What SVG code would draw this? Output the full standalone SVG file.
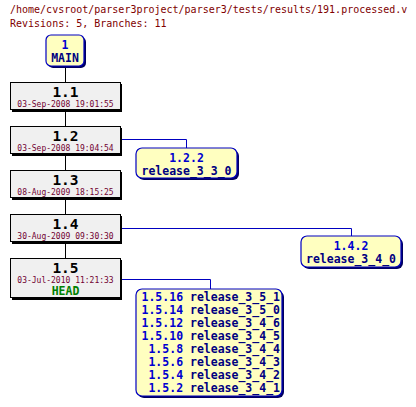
<svg xmlns="http://www.w3.org/2000/svg" width="416" height="407" viewBox="0 0 416 407">
<style>
text{font-family:"DejaVu Sans Mono","Liberation Mono",monospace}
.hdr{font-size:10px;fill:#800000}
.rev{fill:#f0f0f0;stroke:#000;stroke-width:1}
.sh{fill:#000}
.br{fill:#ffffc0;stroke:#0000c0;stroke-width:1.2}
.bsh{fill:#000060}
.num{font-size:14.5px;font-weight:bold;fill:#000;text-anchor:middle}
.date{font-size:8px;fill:#700030;text-anchor:middle}
.bv{font-size:11.5px;font-weight:bold;fill:#0000d0;text-anchor:middle}
.bt{font-size:11.5px;font-weight:bold;fill:#000080;text-anchor:middle}
.head{font-size:11.5px;font-weight:bold;fill:#008000;text-anchor:middle}
.lst{font-size:11.5px;font-weight:bold;text-anchor:end}
.t{stroke:#000;stroke-width:1;fill:none}
.b{stroke:#0000c0;stroke-width:1;fill:none}
</style>
<text class="hdr" x="10" y="13">/home/cvsroot/parser3project/parser3/tests/results/191.processed.v</text>
<text class="hdr" x="10" y="27">Revisions: 5, Branches: 11</text>
<g id="connectors">
<path class="t" d="M65.5 66V82M65.5 110V126M65.5 154V170M65.5 198V214M65.5 242V258"/>
<path class="b" d="M120 139.5H186.5V148M120 228.5H351.5V236M120 279.5H210.5V289"/>
</g>
<g id="n-main">
<rect class="bsh" x="48" y="37" width="38" height="31" rx="5"/>
<rect class="br" x="46" y="35" width="38" height="31" rx="5"/>
<text class="bv" x="65" y="49">1</text>
<text class="bt" x="65" y="62">MAIN</text>
</g>
<g id="n-1.1">
<rect class="sh" x="12" y="84" width="110" height="28"/>
<rect class="rev" x="10.5" y="82.5" width="110" height="27"/>
<text class="num" x="65.5" y="96.5">1.1</text>
<text class="date" x="65.5" y="107">03-Sep-2008 19:01:55</text>
</g>
<g id="n-1.2">
<rect class="sh" x="12" y="128" width="110" height="28"/>
<rect class="rev" x="10.5" y="126.5" width="110" height="27"/>
<text class="num" x="65.5" y="140.5">1.2</text>
<text class="date" x="65.5" y="151">03-Sep-2008 19:04:54</text>
</g>
<g id="n-1.3">
<rect class="sh" x="12" y="172" width="110" height="28"/>
<rect class="rev" x="10.5" y="170.5" width="110" height="27"/>
<text class="num" x="65.5" y="184.5">1.3</text>
<text class="date" x="65.5" y="195">08-Aug-2009 18:15:25</text>
</g>
<g id="n-1.4">
<rect class="sh" x="12" y="216" width="110" height="28"/>
<rect class="rev" x="10.5" y="214.5" width="110" height="27"/>
<text class="num" x="65.5" y="228.5">1.4</text>
<text class="date" x="65.5" y="239">30-Aug-2009 09:30:30</text>
</g>
<g id="n-1.5">
<rect class="sh" x="12" y="260" width="110" height="40"/>
<rect class="rev" x="10.5" y="258.5" width="110" height="39"/>
<text class="num" x="65.5" y="272.5">1.5</text>
<text class="date" x="65.5" y="283">03-Jul-2010 11:21:33</text>
<text class="head" x="65.5" y="295">HEAD</text>
</g>
<g id="n-1.2.2">
<rect class="bsh" x="138" y="150" width="101" height="30" rx="6"/>
<rect class="br" x="136" y="148" width="101" height="30" rx="6"/>
<text class="bv" x="186.5" y="162">1.2.2</text>
<text class="bt" x="186.5" y="175">release_3_3_0</text>
</g>
<g id="n-1.4.2">
<rect class="bsh" x="303" y="238" width="100" height="31" rx="6"/>
<rect class="br" x="301" y="236" width="100" height="31" rx="6"/>
<text class="bv" x="351" y="250">1.4.2</text>
<text class="bt" x="351" y="263">release_3_4_0</text>
</g>
<g id="n-1.5-branches">
<rect class="bsh" x="138" y="291" width="146" height="107" rx="6"/>
<rect class="br" x="136" y="289" width="146" height="107" rx="6"/>
<text class="lst" x="280" y="301"><tspan fill="#0000d0">1.5.16</tspan><tspan fill="#000080"> release_3_5_1</tspan></text>
<text class="lst" x="280" y="314"><tspan fill="#0000d0">1.5.14</tspan><tspan fill="#000080"> release_3_5_0</tspan></text>
<text class="lst" x="280" y="327"><tspan fill="#0000d0">1.5.12</tspan><tspan fill="#000080"> release_3_4_6</tspan></text>
<text class="lst" x="280" y="340"><tspan fill="#0000d0">1.5.10</tspan><tspan fill="#000080"> release_3_4_5</tspan></text>
<text class="lst" x="280" y="353"><tspan fill="#0000d0">1.5.8</tspan><tspan fill="#000080"> release_3_4_4</tspan></text>
<text class="lst" x="280" y="366"><tspan fill="#0000d0">1.5.6</tspan><tspan fill="#000080"> release_3_4_3</tspan></text>
<text class="lst" x="280" y="379"><tspan fill="#0000d0">1.5.4</tspan><tspan fill="#000080"> release_3_4_2</tspan></text>
<text class="lst" x="280" y="392"><tspan fill="#0000d0">1.5.2</tspan><tspan fill="#000080"> release_3_4_1</tspan></text>
</g>
</svg>
